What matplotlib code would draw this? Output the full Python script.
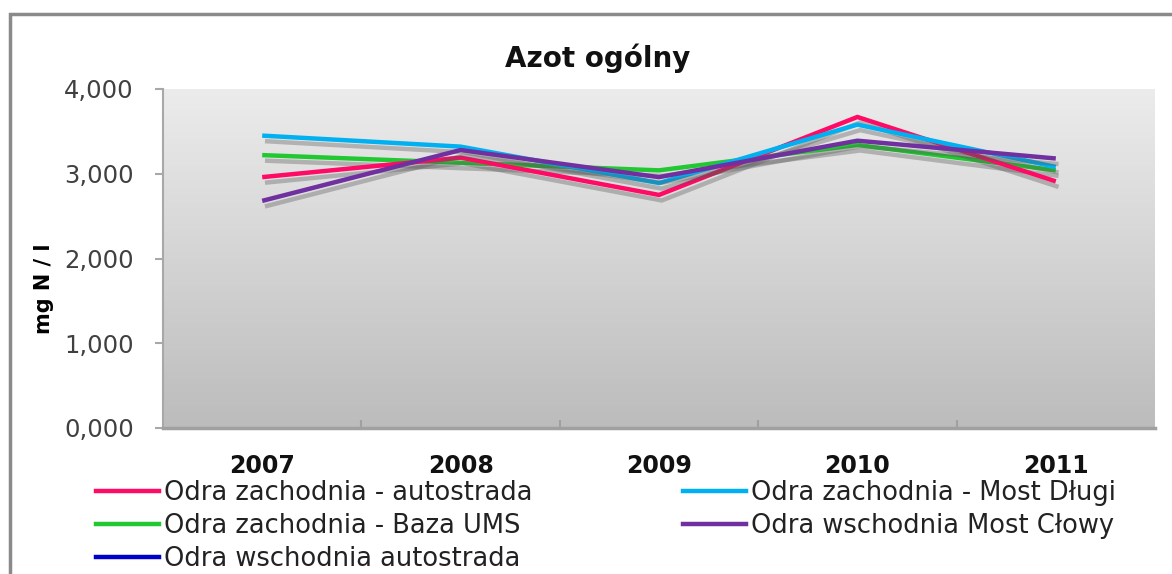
import numpy as np
import matplotlib
matplotlib.use("Agg")
import matplotlib.pyplot as plt
import matplotlib.patheffects as pe
from matplotlib.patches import Rectangle
from matplotlib.lines import Line2D
from matplotlib.ticker import FuncFormatter
from matplotlib.colors import LinearSegmentedColormap

years = ["2007", "2008", "2009", "2010", "2011"]
zach_autostrada = [2.96, 3.19, 2.75, 3.67, 2.91]
zach_most_dlugi = [3.45, 3.32, 2.89, 3.58, 3.08]
zach_baza_ums = [3.22, 3.13, 3.04, 3.34, 3.04]
wsch_most_clowy = [2.68, 3.28, 2.96, 3.39, 3.18]
wsch_autostrada = [np.nan, np.nan, np.nan, np.nan, np.nan]

series = [
    ("Odra zachodnia - autostrada", zach_autostrada, "#ff0a64"),
    ("Odra zachodnia - Baza UMS", zach_baza_ums, "#22c832"),
    ("Odra wschodnia autostrada", wsch_autostrada, "#0000c8"),
    ("Odra zachodnia - Most Długi", zach_most_dlugi, "#00b0f0"),
    ("Odra wschodnia Most Cłowy", wsch_most_clowy, "#7030a0"),
]
draw_order = [1, 0, 3, 2, 4]

fig = plt.figure(figsize=(11.72, 5.74), dpi=100)
fig.patch.set_facecolor("white")
ax = fig.add_axes([163/1172, 1-428/574, (1155-163)/1172, (428-89)/574])

grad = np.linspace(0, 1, 256).reshape(-1, 1)
cmap = LinearSegmentedColormap.from_list("g", ["#ececec", "#bcbcbc"])
ax.imshow(grad, cmap=cmap, aspect="auto", extent=[0, 1, 0, 1],
          transform=ax.transAxes, zorder=0)

x = np.arange(len(years))
for i in draw_order:
    name, vals, col = series[i]
    ax.plot(x, vals, color=col, lw=3.2, solid_capstyle="butt", zorder=3,
            path_effects=[pe.SimpleLineShadow(offset=(2, -4), shadow_color="#555555", alpha=0.35),
                          pe.Normal()])

ax.set_xlim(-0.5, 4.5)
ax.set_ylim(0, 4)
ax.set_yticks([0, 1, 2, 3, 4])
ax.yaxis.set_major_formatter(FuncFormatter(lambda v, p: f"{v:.3f}".replace(".", ",")))
ax.set_xticks(x)
ax.set_xticklabels(years, fontsize=17, fontweight="bold", color="#111111")
ax.set_xticks([0.5, 1.5, 2.5, 3.5], minor=True)
ax.tick_params(axis="x", which="major", length=0, pad=19)
ax.tick_params(axis="x", which="minor", length=6, direction="in", color="#a0a0a0", width=1.5)
ax.tick_params(axis="y", which="major", length=6, direction="out", color="#a8a8a8",
               width=1.5, labelsize=17.5, labelcolor="#404040", pad=15)

for s in ["top", "right"]:
    ax.spines[s].set_visible(False)
ax.spines["left"].set_color("#a8a8a8")
ax.spines["left"].set_linewidth(1.5)
ax.spines["bottom"].set_color("#a0a0a0")
ax.spines["bottom"].set_linewidth(2.5)

ax.set_ylabel("mg N / l", fontsize=15, fontweight="bold")
ax.yaxis.set_label_coords(-0.110, 0.41)
fig.text(598/1172, 1-58/574, "Azot ogólny", fontsize=20, fontweight="bold",
         ha="center", va="center", color="#111111")

leg_handles = [Line2D([], [], color=series[i][2], lw=3.2) for i in range(5)]
leg_labels = [series[i][0] for i in range(5)]
fig.legend(leg_handles, leg_labels, loc="upper left", bbox_to_anchor=(96/1172, 1-480/574),
           ncol=2, frameon=False, fontsize=18.5, handlelength=2.45, handletextpad=0.2,
           labelspacing=0.27, columnspacing=5.85, borderpad=0, borderaxespad=0,
           labelcolor="#222222")

fig.patches.append(Rectangle((10/1172, -0.1), 1.2, 1.1-14/574, transform=fig.transFigure,
                             fill=False, edgecolor="#8a8a8a", lw=2.5))

fig.savefig("out.png", dpi=100)
